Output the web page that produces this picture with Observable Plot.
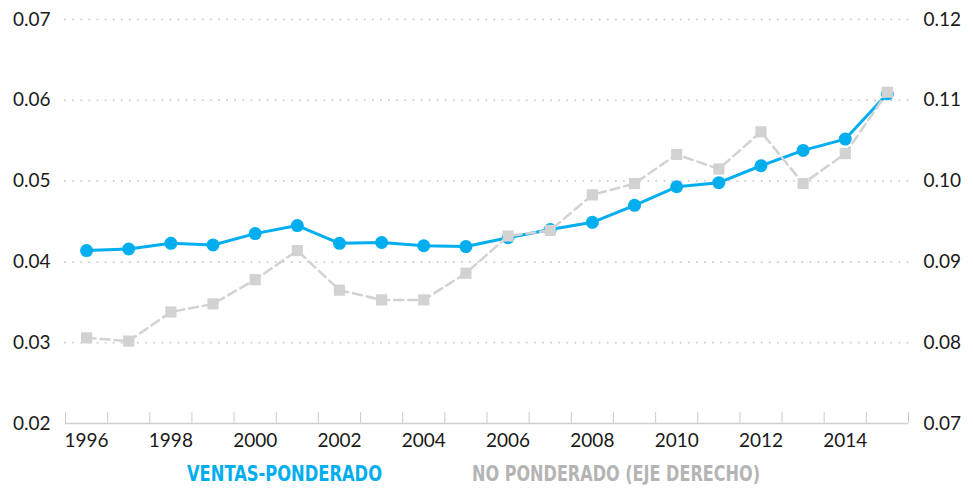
<!DOCTYPE html>
<html><head><meta charset="utf-8">
<script src="https://cdn.jsdelivr.net/npm/d3@7"></script>
<script src="https://cdn.jsdelivr.net/npm/@observablehq/plot@0.6"></script>
<style>
html,body{margin:0;padding:0;background:#fff;}
#chart svg{display:block;}
#legend{position:relative;width:973px;height:35px;font-family:"Liberation Sans Narrow","DejaVu Sans Condensed",sans-serif;font-weight:bold;font-size:21px;}
#legend span{position:absolute;top:7px;white-space:nowrap;line-height:24px;transform-origin:0 50%;}
</style></head><body>
<div id="chart"></div>
<div id="legend"><span id="l1" style="left:187px;color:#00aeef">VENTAS-PONDERADO</span><span id="l2" style="left:472px;color:#b4b4b4">NO PONDERADO (EJE DERECHO)</span></div>
<script>
const years = [1996,1997,1998,1999,2000,2001,2002,2003,2004,2005,2006,2007,2008,2009,2010,2011,2012,2013,2014,2015];
const ventasPonderado = [0.0414,0.0416,0.0423,0.0421,0.0435,0.0445,0.0423,0.0424,0.0420,0.0419,0.0430,0.0440,0.0449,0.0470,0.0493,0.0498,0.0519,0.0538,0.0552,0.0608];
const noPonderado = [0.0806,0.0802,0.0838,0.0848,0.0878,0.0914,0.0865,0.0853,0.0853,0.0886,0.0932,0.0939,0.0983,0.0997,0.1033,0.1015,0.1061,0.0997,0.1034,0.1110];
const leftTicks = [0.02,0.03,0.04,0.05,0.06,0.07];
const rightTicks = [0.07,0.08,0.09,0.10,0.11,0.12];
const xLabelYears = [1996,1998,2000,2002,2004,2006,2008,2010,2012,2014];
const OFFSET = 0.05; // right axis = left axis + 0.05

const blueData = years.map((year, i) => ({year, value: ventasPonderado[i]}));
const grayData = years.map((year, i) => ({year, value: noPonderado[i] - OFFSET}));
const bandEdges = [...years.map(y => y - 0.5), years[years.length - 1] + 0.5];

const BLUE = "#00aeef", GRAY = "#d2d2d2";

const chart = Plot.plot({
  width: 973, height: 455,
  marginLeft: 65, marginRight: 65, marginTop: 19, marginBottom: 32,
  style: {fontFamily: "Lato, 'Open Sans', sans-serif", fontSize: "19px", color: "#1a1a1a", background: "#fff", overflow: "visible"},
  x: {domain: [1995.5, 2015.5]},
  y: {domain: [0.02, 0.07]},
  marks: [
    Plot.gridY(leftTicks.slice(1), {stroke: "#cfcfcf", strokeOpacity: 1, strokeWidth: 2, strokeDasharray: "0.1,8", strokeLinecap: "round"}),
    Plot.ruleY([0.02], {stroke: "#d0d0d0", strokeWidth: 1.5}),
    Plot.axisX(bandEdges, {tickSize: -11, stroke: "#cccccc", tickFormat: () => "", label: null}),
    Plot.axisX(xLabelYears, {tickSize: 0, tickPadding: 10, tickFormat: d => String(d), label: null}),
    Plot.axisY(leftTicks, {anchor: "left", tickSize: 0, tickPadding: 15, tickFormat: d => d.toFixed(2), label: null}),
    Plot.axisY(rightTicks.map(t => t - OFFSET), {anchor: "right", tickSize: 0, tickPadding: 15, tickFormat: d => (d + OFFSET).toFixed(2), label: null}),
    Plot.line(blueData, {x: "year", y: "value", stroke: BLUE, strokeWidth: 3}),
    Plot.dot(blueData, {x: "year", y: "value", r: 6.5, fill: BLUE}),
    Plot.line(grayData, {x: "year", y: "value", stroke: GRAY, strokeWidth: 2.5, strokeDasharray: "9,5"}),
    Plot.dot(grayData, {x: "year", y: "value", symbol: "square", r: 6.3, fill: GRAY})
  ]
});
document.getElementById("chart").appendChild(chart);

// fit the legend labels to the reference widths (condensed typeface)
[["l1", 195], ["l2", 288]].forEach(([id, w]) => {
  const el = document.getElementById(id);
  const actual = el.getBoundingClientRect().width;
  if (actual > 0) el.style.transform = `scaleX(${w / actual})`;
});
</script>
</body></html>
